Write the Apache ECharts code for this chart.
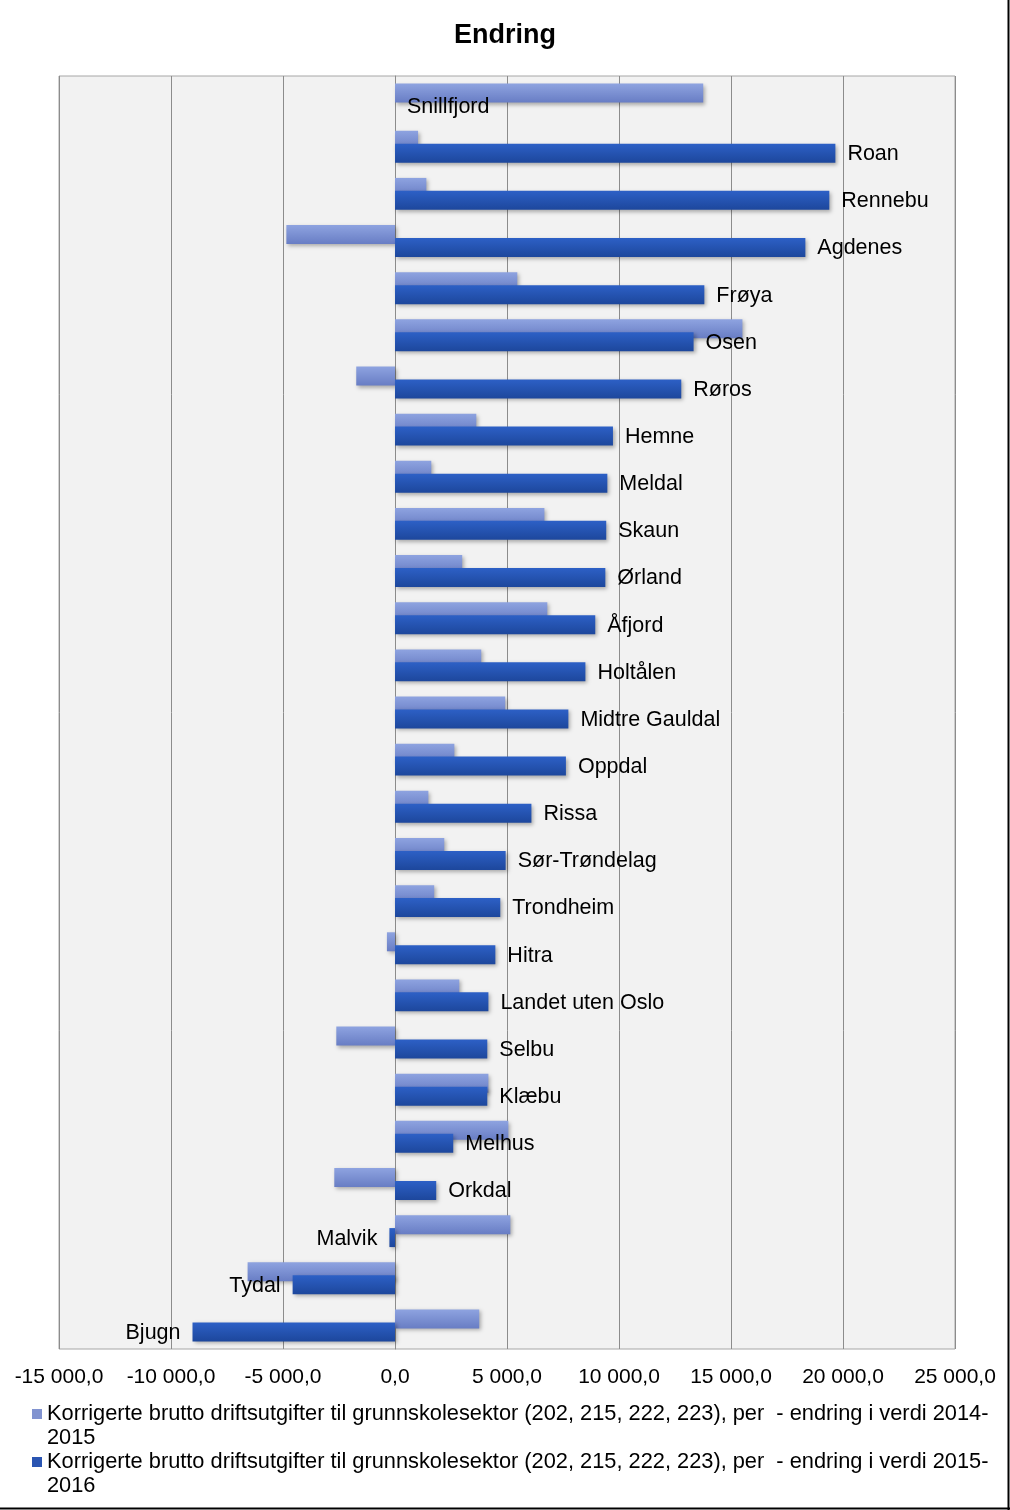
<!DOCTYPE html>
<html>
<head>
<meta charset="utf-8">
<script src="https://cdn.jsdelivr.net/npm/echarts@6/dist/echarts.min.js"></script>
<style>
  html, body { margin: 0; padding: 0; background: #fff; }
  #chart { width: 1010px; height: 1510px; }
</style>
</head>
<body>
<div id="chart"></div>
<script>
const categories = ['Snillfjord','Roan','Rennebu','Agdenes','Frøya','Osen','Røros','Hemne','Meldal','Skaun','Ørland','Åfjord','Holtålen','Midtre Gauldal','Oppdal','Rissa','Sør-Trøndelag','Trondheim','Hitra','Landet uten Oslo','Selbu','Klæbu','Melhus','Orkdal','Malvik','Tydal','Bjugn'];
const change1415 = [13760, 1030, 1400, -4850, 5460, 15510, -1730, 3630, 1620, 6670, 3000, 6800, 3850, 4920, 2650, 1490, 2200, 1750, -360, 2870, -2620, 4170, 5060, -2710, 5150, -6580, 3760];
const change1516 = [0, 19660, 19390, 18320, 13810, 13330, 12780, 9730, 9480, 9430, 9390, 8940, 8500, 7740, 7630, 6090, 4940, 4700, 4480, 4170, 4120, 4120, 2600, 1840, -250, -4570, -9040];
const xTickLabels = ['-15 000,0','-10 000,0','-5 000,0','0,0','5 000,0','10 000,0','15 000,0','20 000,0','25 000,0'];
const seriesNames = [
  'Korrigerte brutto driftsutgifter til grunnskolesektor (202, 215, 222, 223), per  - endring i verdi 2014-2015',
  'Korrigerte brutto driftsutgifter til grunnskolesektor (202, 215, 222, 223), per  - endring i verdi 2015-2016'
];

const FONT = '"Liberation Sans", Arial, sans-serif';
const chart = echarts.init(document.getElementById('chart'), null, { renderer: 'canvas' });

const lightColor = new echarts.graphic.LinearGradient(0, 0, 0, 1, [
  { offset: 0, color: '#8ea3e0' }, { offset: 1, color: '#687dc4' }
]);
const darkColor = new echarts.graphic.LinearGradient(0, 0, 0, 1, [
  { offset: 0, color: '#2d60c6' }, { offset: 1, color: '#1d479c' }
]);

chart.setOption({
  animation: false,
  backgroundColor: '#fff',
  title: {
    text: 'Endring', left: 'center', top: 17,
    textStyle: { fontFamily: FONT, fontSize: 27, fontWeight: 'bold', color: '#000' }
  },
  legend: {
    data: [
      { name: seriesNames[0], itemStyle: { color: '#8193d0' } },
      { name: seriesNames[1], itemStyle: { color: '#2a55b2' } }
    ],
    left: 32, top: 1402, orient: 'vertical', padding: 0, itemGap: 0,
    icon: 'path://M0,0h10v10h-10z M0,33.9h0.01v0.1h-0.01z',
    itemWidth: 10, itemHeight: 34,
    selectedMode: false,
    formatter: n => n.replace(/(20\d\d-)(20\d\d)$/, '$1\n$2'),
    textStyle: { fontFamily: FONT, fontSize: 21.8, color: '#000', lineHeight: 24 }
  },
  grid: {
    left: 59, right: 55, top: 76, bottom: 161,
    show: true, backgroundColor: '#f2f2f2', borderColor: '#a6a6a6', borderWidth: 1,
    containLabel: false
  },
  xAxis: {
    type: 'value', min: -15000, max: 25000, interval: 5000,
    axisLine: { show: false }, axisTick: { show: false },
    splitLine: { show: true, lineStyle: { color: '#8c8c8c', width: 1 } },
    axisLabel: {
      fontFamily: FONT, fontSize: 21, color: '#000', margin: 18,
      formatter: (v, i) => xTickLabels[i]
    }
  },
  yAxis: {
    type: 'category', data: categories, inverse: true,
    axisLine: { show: true, onZero: true, lineStyle: { color: '#8c8c8c' } },
    axisTick: { show: false }, axisLabel: { show: false }, splitLine: { show: false }
  },
  series: [
    {
      name: seriesNames[0], type: 'bar', data: change1415,
      barWidth: 19, barGap: '-32%',
      itemStyle: { color: lightColor, shadowColor: 'rgba(0,0,0,0.3)', shadowBlur: 4, shadowOffsetX: 2, shadowOffsetY: 2 }
    },
    {
      name: seriesNames[1], type: 'bar',
      data: change1516.map(v => ({ value: v, label: { position: v < 0 ? 'left' : 'right' } })),
      barWidth: 19, barGap: '-32%',
      itemStyle: { color: darkColor, shadowColor: 'rgba(0,0,0,0.3)', shadowBlur: 4, shadowOffsetX: 2, shadowOffsetY: 2 },
      label: {
        show: true, formatter: '{b}', distance: 12,
        fontFamily: FONT, fontSize: 21.5, color: '#000', offset: [0, 1]
      }
    }
  ],
  graphic: [
    { type: 'line', shape: { x1: 1008.5, y1: 0, x2: 1008.5, y2: 1510 }, style: { stroke: '#000', lineWidth: 2 }, silent: true },
    { type: 'line', shape: { x1: 0, y1: 1508.5, x2: 1010, y2: 1508.5 }, style: { stroke: '#000', lineWidth: 2 }, silent: true }
  ]
});
</script>
</body>
</html>
